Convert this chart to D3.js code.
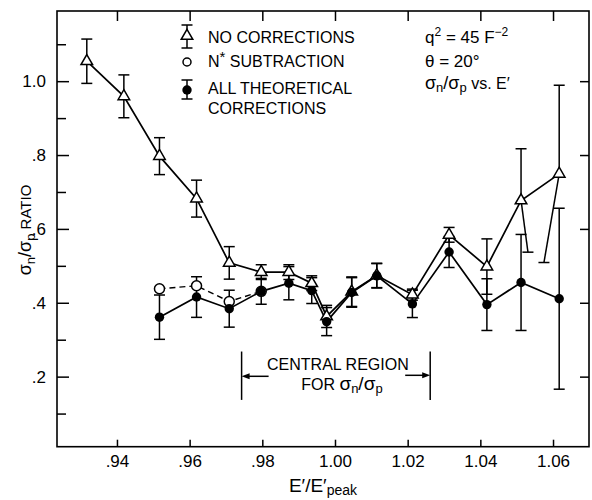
<!DOCTYPE html>
<html>
<head>
<meta charset="utf-8">
<script src="https://cdn.jsdelivr.net/npm/d3@7/dist/d3.min.js"></script>
<style>
  html, body { margin: 0; padding: 0; background: #fff; }
  svg { display: block; }
  text { font-family: "Liberation Sans", Arial, Helvetica, sans-serif; fill: #000; }
</style>
</head>
<body>
<svg id="chart" width="592" height="500"></svg>
<script>
// ---------- DATA ----------
const xTicks = [0.94, 0.96, 0.98, 1.00, 1.02, 1.04, 1.06];
const xTickLabels = [".94", ".96", ".98", "1.00", "1.02", "1.04", "1.06"];
const yMajorTicks = [0.2, 0.4, 0.6, 0.8, 1.0];
const yTickLabels = [".2", ".4", ".6", ".8", "1.0"];
const yMinorTicks = [0.1, 0.3, 0.5, 0.7, 0.9, 1.1];

// No corrections (open triangles)
const triX   = [0.9317, 0.9419, 0.9517, 0.9619, 0.9709, 0.9797, 0.9873, 0.9936, 0.9977, 1.0046, 1.0115, 1.0213, 1.0314, 1.0418, 1.0512, 1.0617];
const triY   = [1.054, 0.959, 0.797, 0.682, 0.508, 0.483, 0.483, 0.453, 0.363, 0.430, 0.474, 0.422, 0.584, 0.498, 0.677, 0.749];
const triErr = [0.060, 0.058, 0.050, 0.050, 0.044, 0.020, 0.020, 0.020, 0.030, 0.040, 0.033, 0.015, 0.020, 0.075, 0.140, 0.240];
// lower end of the (crookedly drawn) lower error bars, in E'/E'peak units
const triLowX = [null, null, null, null, null, null, null, null, null, null, null, null, null, null, 1.0531, 1.0575];

// N* subtraction (open circles)
const nsX = [0.9517, 0.9619, 0.9709, 0.9797];
const nsY = [0.438, 0.446, 0.4035, 0.431];

// All theoretical corrections (filled circles)
const allX   = [0.9517, 0.9619, 0.9709, 0.9797, 0.9873, 0.9936, 0.9977, 1.0046, 1.0115, 1.0213, 1.0314, 1.0418, 1.0512, 1.0617];
const allY   = [0.361, 0.4155, 0.384, 0.431, 0.453, 0.433, 0.349, 0.428, 0.473, 0.397, 0.5375, 0.395, 0.455, 0.411];
const allErr = [0.060, 0.055, 0.050, 0.035, 0.045, 0.035, 0.038, 0.040, 0.033, 0.037, 0.042, 0.070, 0.130, 0.245];

const legendLabels = ["NO CORRECTIONS", "N* SUBTRACTION", "ALL THEORETICAL", "CORRECTIONS"];
const centralRegion = [0.9743, 1.0262];

// ---------- LAYOUT ----------
const svg = d3.select("#chart");
const L = 57, R = 589, T = 11, B = 446.7;
const x = d3.scaleLinear().domain([0.9235, 1.0699]).range([L, R]);
const y = d3.scaleLinear().domain([0.0103, 1.19]).range([B, T]);
const SW = 1.7;

// frame
svg.append("rect").attr("x", L).attr("y", T).attr("width", R - L).attr("height", B - T)
  .attr("fill", "none").attr("stroke", "#000").attr("stroke-width", 1.6);

// bottom axis (inward ticks)
const xAxisB = d3.axisBottom(x).tickValues(xTicks).tickSize(-7).tickPadding(8)
  .tickFormat((d, i) => xTickLabels[i]);
const gB = svg.append("g").attr("transform", `translate(0,${B})`).call(xAxisB);
// top axis ticks
const xAxisT = d3.axisTop(x).tickValues(xTicks).tickSize(-10).tickFormat("");
const gT = svg.append("g").attr("transform", `translate(0,${T})`).call(xAxisT);
// left axis major + minor
const yAxisL = d3.axisLeft(y).tickValues(yMajorTicks).tickSize(-12).tickPadding(11)
  .tickFormat((d, i) => yTickLabels[i]);
const gL = svg.append("g").attr("transform", `translate(${L},0)`).call(yAxisL);
const gLm = svg.append("g").attr("transform", `translate(${L},0)`)
  .call(d3.axisLeft(y).tickValues(yMinorTicks).tickSize(-9).tickFormat(""));
// right axis ticks
const gR = svg.append("g").attr("transform", `translate(${R},0)`)
  .call(d3.axisRight(y).tickValues(yMajorTicks).tickSize(-9).tickFormat(""));

[gB, gT, gL, gLm, gR].forEach(g => {
  g.select(".domain").remove();
  g.selectAll(".tick line").attr("stroke", "#000").attr("stroke-width", 1.5);
  g.selectAll("text").attr("font-size", 17).attr("fill", "#000")
    .style("font-family", "'Liberation Sans', Arial, sans-serif");
});

// ---------- AXIS TITLES ----------
const xt = svg.append("text").attr("x", 323).attr("y", 492).attr("text-anchor", "middle")
  .attr("font-size", 19);
xt.append("tspan").text("E\u2032/E\u2032");
xt.append("tspan").attr("font-size", 14).attr("dy", 3).text("peak");

const yt = svg.append("text").attr("transform", "translate(31,230) rotate(-90)")
  .attr("text-anchor", "middle").attr("font-size", 18);
yt.append("tspan").text("\u03C3");
yt.append("tspan").attr("font-size", 13).attr("dy", 4).text("n");
yt.append("tspan").attr("dy", -4).text("/\u03C3");
yt.append("tspan").attr("font-size", 13).attr("dy", 4).text("p");
yt.append("tspan").attr("font-size", 15).attr("dy", -4).text(" RATIO");

// ---------- DATA MARKS ----------
const tri = triX.map((v, i) => ({x: v, y: triY[i], e: triErr[i], lx: triLowX[i]}));
const ns  = nsX.map((v, i) => ({x: v, y: nsY[i]}));
const all = allX.map((v, i) => ({x: v, y: allY[i], e: allErr[i]}));

const line = d3.line().x(d => x(d.x)).y(d => y(d.y));
svg.append("path").datum(tri).attr("d", line).attr("fill", "none").attr("stroke", "#000").attr("stroke-width", SW);
svg.append("path").datum(ns).attr("d", line).attr("fill", "none").attr("stroke", "#000")
  .attr("stroke-width", 1.4).attr("stroke-dasharray", "6,4");
svg.append("path").datum(all).attr("d", line).attr("fill", "none").attr("stroke", "#000").attr("stroke-width", SW);

const cap = 5.5;
function errBar(g, d) {
  const cx = x(d.x), top = y(d.y + d.e), lowY = y(d.y - d.e);
  const lx = d.lx != null ? x(d.lx) : cx;
  g.append("line").attr("x1", cx).attr("x2", cx).attr("y1", top).attr("y2", y(d.y));
  g.append("line").attr("x1", cx).attr("x2", lx).attr("y1", y(d.y)).attr("y2", lowY);
  g.append("line").attr("x1", cx - cap).attr("x2", cx + cap).attr("y1", top).attr("y2", top);
  g.append("line").attr("x1", lx - cap).attr("x2", lx + cap).attr("y1", lowY).attr("y2", lowY);
}
const gErr = svg.append("g").attr("stroke", "#000").attr("stroke-width", 1.5);
tri.forEach(d => errBar(gErr, d));
all.forEach(d => errBar(gErr, d));

const triSym = d3.symbol(d3.symbolTriangle).size(58);
svg.append("g").selectAll("path").data(tri).join("path")
  .attr("d", triSym).attr("transform", d => `translate(${x(d.x)},${y(d.y)})`)
  .attr("fill", "#fff").attr("stroke", "#000").attr("stroke-width", 1.5);
svg.append("g").selectAll("circle").data(ns).join("circle")
  .attr("cx", d => x(d.x)).attr("cy", d => y(d.y)).attr("r", 5)
  .attr("fill", "#fff").attr("stroke", "#000").attr("stroke-width", 1.5);
svg.append("g").selectAll("circle").data(all).join("circle")
  .attr("cx", d => x(d.x)).attr("cy", d => y(d.y)).attr("r", 4.7).attr("fill", "#000");

// ---------- LEGEND ----------
const lg = svg.append("g");
const lsx = 187;
const lgs = lg.append("g").attr("stroke", "#000").attr("stroke-width", 1.5);
lgs.append("line").attr("x1", lsx).attr("x2", lsx).attr("y1", 25).attr("y2", 48);
lgs.append("line").attr("x1", lsx - cap).attr("x2", lsx + cap).attr("y1", 25).attr("y2", 25);
lgs.append("line").attr("x1", lsx - cap).attr("x2", lsx + cap).attr("y1", 48).attr("y2", 48);
lg.append("path").attr("d", triSym).attr("transform", `translate(${lsx},36)`)
  .attr("fill", "#fff").attr("stroke", "#000").attr("stroke-width", 1.5);
lg.append("circle").attr("cx", lsx).attr("cy", 62).attr("r", 4).attr("fill", "#fff")
  .attr("stroke", "#000").attr("stroke-width", 1.5);
lgs.append("line").attr("x1", lsx).attr("x2", lsx).attr("y1", 80).attr("y2", 99);
lgs.append("line").attr("x1", lsx - cap).attr("x2", lsx + cap).attr("y1", 80).attr("y2", 80);
lgs.append("line").attr("x1", lsx - cap).attr("x2", lsx + cap).attr("y1", 99).attr("y2", 99);
lg.append("circle").attr("cx", lsx).attr("cy", 90).attr("r", 4.7).attr("fill", "#000");

const legY = [42.5, 66.5, 94, 113.5];
legendLabels.forEach((t, i) => {
  const tx = lg.append("text").attr("x", 208).attr("y", legY[i]).attr("font-size", 16);
  if (t.startsWith("N*")) {
    tx.append("tspan").text("N");
    tx.append("tspan").attr("font-size", 15).attr("dy", -5).text("*");
    tx.append("tspan").attr("dy", 5).text(t.slice(2));
  } else tx.text(t);
});

// ---------- ANNOTATIONS ----------
const ax = 425;
const q = svg.append("text").attr("x", ax).attr("y", 43).attr("font-size", 17);
q.append("tspan").text("q");
q.append("tspan").attr("font-size", 12).attr("dy", -7).text("2");
q.append("tspan").attr("dy", 7).text(" = 45 F");
q.append("tspan").attr("font-size", 12).attr("dy", -7).text("\u22122");
svg.append("text").attr("x", ax).attr("y", 66.5).attr("font-size", 17).text("\u03B8 = 20\u00B0");
const s = svg.append("text").attr("x", ax).attr("y", 89).attr("font-size", 18);
s.append("tspan").text("\u03C3");
s.append("tspan").attr("font-size", 13).attr("dy", 3).text("n");
s.append("tspan").attr("dy", -3).text("/\u03C3");
s.append("tspan").attr("font-size", 13).attr("dy", 3).text("p");
s.append("tspan").attr("dy", -3).attr("font-size", 16).text(" vs. E\u2032");

// central region bracket
const cx0 = x(centralRegion[0]), cx1 = x(centralRegion[1]), cmid = (cx0 + cx1) / 2;
const cr = svg.append("g").attr("stroke", "#000").attr("stroke-width", 1.5);
const barTop = y(0.268), barBot = y(0.137), arrY = y(0.2009);
cr.append("line").attr("x1", cx0).attr("x2", cx0).attr("y1", barTop).attr("y2", barBot);
cr.append("line").attr("x1", cx1).attr("x2", cx1).attr("y1", barTop).attr("y2", barBot);
cr.append("line").attr("x1", cx0 + 27).attr("x2", cx0 + 6).attr("y1", arrY).attr("y2", arrY);
cr.append("line").attr("x1", cx1 - 25).attr("x2", cx1 - 6).attr("y1", arrY - 1).attr("y2", arrY - 1);
svg.append("path").attr("d", `M${cx0},${arrY} l8,-3 l0,6 z`).attr("fill", "#000");
svg.append("path").attr("d", `M${cx1},${arrY - 1} l-8,-3 l0,6 z`).attr("fill", "#000");
svg.append("text").attr("x", cmid + 2).attr("y", 370).attr("text-anchor", "middle")
  .attr("font-size", 16).text("CENTRAL REGION");
const f = svg.append("text").attr("x", cmid + 6).attr("y", 390).attr("text-anchor", "middle").attr("font-size", 16);
f.append("tspan").text("FOR  ");
f.append("tspan").attr("font-size", 19).text("\u03C3");
f.append("tspan").attr("font-size", 13).attr("dy", 3).text("n");
f.append("tspan").attr("font-size", 19).attr("dy", -3).text("/\u03C3");
f.append("tspan").attr("font-size", 13).attr("dy", 3).text("p");
</script>
</body>
</html>
